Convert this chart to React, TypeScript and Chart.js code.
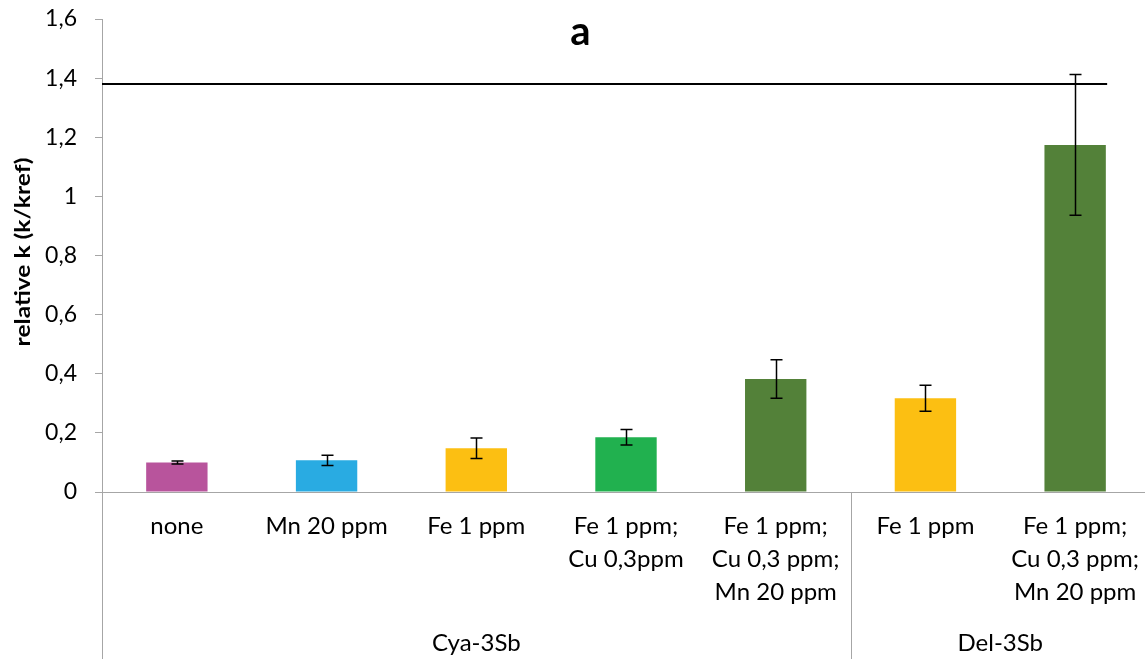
import React, { useEffect, useRef } from 'react';
import { Chart, registerables } from 'chart.js';

Chart.register(...registerables);

const categories: string[][] = [
  ['none'],
  ['Mn 20 ppm'],
  ['Fe 1 ppm'],
  ['Fe 1 ppm;', 'Cu 0,3ppm'],
  ['Fe 1 ppm;', 'Cu 0,3 ppm;', 'Mn 20 ppm'],
  ['Fe 1 ppm'],
  ['Fe 1 ppm;', 'Cu 0,3 ppm;', 'Mn 20 ppm'],
];
const groupLabels = ['Cya-3Sb', 'Del-3Sb'];
const groupStarts = [0, 5];
const groupEnds = [4, 6];
const values = [0.1, 0.107, 0.148, 0.185, 0.382, 0.317, 1.174];
const errors = [0.005, 0.017, 0.035, 0.026, 0.065, 0.044, 0.238];
const barColors = ['#b8549c', '#29abe2', '#fcbf12', '#21b14f', '#538139', '#fcbf12', '#538139'];
const referenceLevel = 1.38;
const yTickValues = [0, 0.2, 0.4, 0.6, 0.8, 1, 1.2, 1.4, 1.6];
const titleText = 'a';
const yTitle = 'relative k (k/kref)';

const FONT = 'Lato';
const GRAY = '#a6a6a6';

const extrasPlugin = {
  id: 'extras',
  afterLayout(chart: any) {
    // the plot area in the original runs slightly past the right edge of the picture
    const x = chart.scales.x;
    x.right += 5;
    x.width += 5;
    x.configure();
  },
  afterDatasetsDraw(chart: any) {
    const ctx = chart.ctx;
    const x = chart.scales.x;
    const y = chart.scales.y;
    ctx.save();
    // reference line
    ctx.strokeStyle = '#000';
    ctx.lineWidth = 2;
    ctx.beginPath();
    const ry = Math.round(y.getPixelForValue(referenceLevel));
    ctx.moveTo(chart.chartArea.left, ry);
    ctx.lineTo(x.getPixelForValue(values.length - 1) + 32, ry);
    ctx.stroke();
    // error bars
    ctx.lineWidth = 1.5;
    values.forEach((v, i) => {
      const cx = Math.round(x.getPixelForValue(i)) + 0.5;
      const top = y.getPixelForValue(v + errors[i]);
      const bot = y.getPixelForValue(v - errors[i]);
      ctx.beginPath();
      ctx.moveTo(cx, top);
      ctx.lineTo(cx, bot);
      ctx.moveTo(cx - 6, top);
      ctx.lineTo(cx + 6, top);
      ctx.moveTo(cx - 6, bot);
      ctx.lineTo(cx + 6, bot);
      ctx.stroke();
    });
    ctx.restore();
  },
  afterDraw(chart: any) {
    const ctx = chart.ctx;
    const x = chart.scales.x;
    const area = chart.chartArea;
    const H = chart.height;
    ctx.save();
    ctx.strokeStyle = GRAY;
    ctx.lineWidth = 1;
    // extended y axis line
    const lx = Math.round(area.left) + 0.5;
    ctx.beginPath();
    ctx.moveTo(lx, area.bottom);
    ctx.lineTo(lx, H);
    ctx.stroke();
    // group separators
    for (let g = 0; g < groupEnds.length - 1; g++) {
      const sx = Math.round((x.getPixelForValue(groupEnds[g]) + x.getPixelForValue(groupStarts[g + 1])) / 2) + 0.5;
      ctx.beginPath();
      ctx.moveTo(sx, area.bottom);
      ctx.lineTo(sx, H);
      ctx.stroke();
    }
    // group labels
    const half = (x.getPixelForValue(1) - x.getPixelForValue(0)) / 2;
    ctx.fillStyle = '#000';
    ctx.font = `24px ${FONT}`;
    ctx.textAlign = 'center';
    ctx.textBaseline = 'middle';
    groupLabels.forEach((lab, g) => {
      const a = x.getPixelForValue(groupStarts[g]) - half;
      const b = x.getPixelForValue(groupEnds[g]) + half;
      ctx.fillText(lab, (a + b) / 2, 643);
    });
    // title
    ctx.font = `bold 40px ${FONT}`;
    ctx.fillText(titleText, chart.width / 2 + 8, 32);
    // y axis title (rotated)
    ctx.save();
    ctx.translate(23, 252);
    ctx.rotate(-Math.PI / 2);
    ctx.scale(1.17, 1);
    ctx.font = `bold 21px ${FONT}`;
    ctx.fillText(yTitle, 0, 0);
    ctx.restore();
    ctx.restore();
  },
};

export default function App() {
  const ref = useRef<HTMLCanvasElement | null>(null);
  useEffect(() => {
    document.body.style.margin = '0';
    const chart = new Chart(ref.current as HTMLCanvasElement, {
      type: 'bar',
      data: {
        labels: categories,
        datasets: [
          {
            data: values,
            backgroundColor: barColors,
            barPercentage: 0.41,
            categoryPercentage: 1,
          },
        ],
      },
      options: {
        responsive: false,
        animation: false,
        layout: { padding: { top: 19, left: 1, right: 0, bottom: 0 } },
        plugins: { legend: { display: false }, tooltip: { enabled: false }, title: { display: false } },
        scales: {
          x: {
            grid: { display: false, drawTicks: false },
            border: { display: true, color: GRAY, width: 1 },
            ticks: {
              color: '#000',
              padding: 18,
              maxRotation: 0,
              autoSkip: false,
              font: { family: FONT, size: 24, lineHeight: '33px' as any },
            },
            afterFit(scale: any) {
              scale.height = 167;
              scale.paddingLeft = 0;
              scale.paddingRight = 0;
            },
          },
          y: {
            min: 0,
            max: 1.6,
            afterBuildTicks(scale: any) {
              scale.ticks = yTickValues.map((v) => ({ value: v }));
            },
            grid: { drawOnChartArea: false, drawTicks: true, tickLength: 7, color: GRAY },
            border: { display: true, color: GRAY, width: 1 },
            ticks: {
              color: '#000',
              padding: 18,
              font: { family: FONT, size: 23 },
              callback: (v: any) => String(Math.round(Number(v) * 10) / 10).replace('.', ','),
            },
            afterFit(scale: any) {
              scale.width = 101;
              scale.paddingTop = 0;
              scale.paddingBottom = 0;
            },
          },
        },
      },
      plugins: [extrasPlugin],
    });
    return () => chart.destroy();
  }, []);
  return <canvas ref={ref} width={1145} height={659} style={{ display: 'block' }} />;
}
